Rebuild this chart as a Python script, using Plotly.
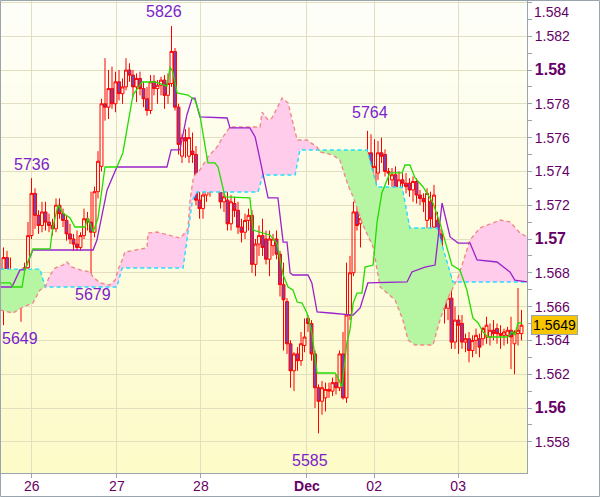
import numpy as np
import plotly.graph_objects as go

# ---------------- data (hourly bars) ----------------
bar_open = [1.5669,1.5689,1.5680,1.5676,1.5670,1.5663,1.5665,1.5683,1.5702,1.5727,
            1.5714,1.5708,1.5716,1.5710,1.5708,1.5706,1.5720,1.5715,1.5711,1.5703,
            1.5700,1.5697,1.5695,1.5702,1.5712,1.5710,1.5704,1.5728,1.5743,1.5780,
            1.5778,1.5789,1.5780,1.5793,1.5786,1.5790,1.5800,1.5797,1.5790,1.5795,
            1.5789,1.5783,1.5776,1.5793,1.5789,1.5791,1.5794,1.5785,1.5792,1.5811,
            1.5778,1.5749,1.5760,1.5749,1.5752,1.5750,1.5723,1.5718,1.5726,1.5733,
            1.5735,1.5742,1.5736,1.5722,1.5723,1.5709,1.5721,1.5717,1.5707,1.5704,
            1.5711,1.5714,1.5685,1.5697,1.5702,1.5700,1.5688,1.5696,1.5700,1.5691,
            1.5673,1.5663,1.5638,1.5622,1.5632,1.5628,1.5637,1.5653,1.5650,1.5632,
            1.5612,1.5604,1.5606,1.5611,1.5610,1.5615,1.5612,1.5632,1.5606,1.5655,
            1.5680,1.5716,1.5709,1.5712,1.5735,1.5751,1.5722,1.5739,1.5751,1.5750,
            1.5740,1.5735,1.5738,1.5729,1.5735,1.5733,1.5733,1.5729,1.5734,1.5726,
            1.5724,1.5711,1.5722,1.5707,1.5711,1.5703,1.5680,1.5659,1.5665,1.5639,
            1.5652,1.5650,1.5639,1.5641,1.5634,1.5640,1.5641,1.5641,1.5642,1.5642,
            1.5646,1.5647,1.5644,1.5643,1.5643,1.5646,1.5638,1.5644,1.5644]
bar_high = [1.5695,1.5693,1.5689,1.5680,1.5673,1.5673,1.5686,1.5710,1.5736,1.5730,
            1.5717,1.5722,1.5722,1.5715,1.5712,1.5724,1.5724,1.5718,1.5714,1.5709,
            1.5703,1.5705,1.5704,1.5718,1.5716,1.5728,1.5731,1.5752,1.5783,1.5807,
            1.5800,1.5802,1.5799,1.5800,1.5795,1.5807,1.5804,1.5800,1.5798,1.5799,
            1.5793,1.5790,1.5797,1.5797,1.5794,1.5796,1.5797,1.5798,1.5826,1.5813,
            1.5780,1.5762,1.5765,1.5766,1.5763,1.5755,1.5730,1.5732,1.5742,1.5740,
            1.5750,1.5748,1.5740,1.5728,1.5730,1.5726,1.5725,1.5722,1.5712,1.5715,
            1.5718,1.5717,1.5700,1.5708,1.5712,1.5705,1.5705,1.5703,1.5705,1.5693,
            1.5686,1.5665,1.5640,1.5633,1.5636,1.5645,1.5653,1.5655,1.5652,1.5634,
            1.5614,1.5616,1.5615,1.5615,1.5618,1.5620,1.5634,1.5645,1.5686,1.5690,
            1.5722,1.5725,1.5723,1.5740,1.5764,1.5762,1.5759,1.5758,1.5760,1.5753,
            1.5742,1.5742,1.5743,1.5740,1.5739,1.5739,1.5736,1.5737,1.5736,1.5729,
            1.5727,1.5730,1.5728,1.5732,1.5716,1.5706,1.5690,1.5675,1.5678,1.5660,
            1.5655,1.5655,1.5644,1.5645,1.5643,1.5647,1.5644,1.5648,1.5654,1.5650,
            1.5652,1.5650,1.5649,1.5647,1.5648,1.5654,1.5646,1.5671,1.5658]
bar_low = [1.5649,1.5675,1.5667,1.5662,1.5658,1.5651,1.5662,1.5681,1.5700,1.5706,
           1.5703,1.5704,1.5705,1.5704,1.5702,1.5704,1.5712,1.5707,1.5699,1.5697,
           1.5693,1.5693,1.5693,1.5700,1.5705,1.5679,1.5701,1.5724,1.5740,1.5770,
           1.5771,1.5777,1.5775,1.5782,1.5780,1.5788,1.5793,1.5784,1.5781,1.5785,
           1.5778,1.5773,1.5774,1.5785,1.5780,1.5785,1.5777,1.5780,1.5790,1.5776,
           1.5750,1.5745,1.5748,1.5745,1.5745,1.5720,1.5712,1.5712,1.5722,1.5725,
           1.5730,1.5732,1.5718,1.5716,1.5705,1.5705,1.5713,1.5703,1.5698,1.5700,
           1.5705,1.5680,1.5678,1.5690,1.5690,1.5685,1.5678,1.5690,1.5688,1.5666,
           1.5634,1.5632,1.5612,1.5610,1.5622,1.5625,1.5633,1.5645,1.5628,1.5600,
           1.5585,1.5596,1.5598,1.5606,1.5607,1.5608,1.5610,1.5605,1.5603,1.5652,
           1.5678,1.5705,1.5695,1.5710,1.5732,1.5716,1.5718,1.5735,1.5745,1.5737,
           1.5732,1.5728,1.5726,1.5726,1.5730,1.5727,1.5725,1.5722,1.5721,1.5720,
           1.5716,1.5705,1.5698,1.5703,1.5700,1.5676,1.5650,1.5652,1.5635,1.5635,
           1.5632,1.5635,1.5633,1.5627,1.5630,1.5632,1.5630,1.5637,1.5638,1.5637,
           1.5640,1.5638,1.5635,1.5637,1.5638,1.5623,1.5620,1.5637,1.5640]
bar_close = [1.5689,1.5680,1.5676,1.5670,1.5663,1.5665,1.5683,1.5702,1.5727,1.5714,
             1.5708,1.5716,1.5710,1.5708,1.5706,1.5720,1.5715,1.5711,1.5703,1.5700,
             1.5697,1.5695,1.5702,1.5712,1.5710,1.5704,1.5728,1.5746,1.5780,1.5778,
             1.5789,1.5780,1.5793,1.5786,1.5790,1.5800,1.5797,1.5790,1.5795,1.5789,
             1.5783,1.5776,1.5793,1.5789,1.5791,1.5794,1.5785,1.5792,1.5811,1.5778,
             1.5756,1.5760,1.5758,1.5760,1.5750,1.5723,1.5718,1.5726,1.5733,1.5737,
             1.5744,1.5736,1.5722,1.5725,1.5709,1.5722,1.5717,1.5707,1.5704,1.5711,
             1.5714,1.5685,1.5697,1.5702,1.5695,1.5688,1.5700,1.5700,1.5691,1.5673,
             1.5664,1.5638,1.5622,1.5632,1.5628,1.5638,1.5642,1.5650,1.5632,1.5612,
             1.5604,1.5612,1.5611,1.5610,1.5615,1.5612,1.5632,1.5606,1.5655,1.5680,
             1.5716,1.5708,1.5712,1.5735,1.5751,1.5722,1.5743,1.5751,1.5749,1.5740,
             1.5739,1.5738,1.5730,1.5735,1.5733,1.5731,1.5729,1.5734,1.5726,1.5724,
             1.5722,1.5727,1.5712,1.5726,1.5703,1.5680,1.5659,1.5665,1.5639,1.5652,
             1.5649,1.5639,1.5641,1.5634,1.5640,1.5643,1.5636,1.5647,1.5649,1.5646,
             1.5644,1.5644,1.5643,1.5645,1.5646,1.5642,1.5645,1.5646,1.5649]
bar_index = list(range(len(bar_close)))

# Ichimoku lines (vertices: bar position, price)
tenkan_x = [-1,1.9,2.7,5.3,6.1,7.6,8.4,13.3,14.1,15.6,17.0,19.0,20.4,23.3,24.1,25.6,27.0,29.0,32.4,34.1,
            37.0,39.6,43.3,46.7,47.6,48.4,49.6,52.7,54.7,56.1,57.6,58.4,60.4,61.3,63.3,70.4,71.3,76.1,78.1,79.9,
            81.3,82.7,83.9,85.3,86.7,88.1,89.6,94.7,95.6,96.7,98.1,99.0,99.9,101.0,102.4,103.3,105.6,106.7,108.1,110.4,
            113.9,114.7,116.1,117.6,119.9,122.7,124.7,126.7,128.1,130.4,132.4,134.1,135.6,137.0,138.4,144.1,145.3,146.1,147.0,148.1]
tenkan_y = [1.56740,1.56740,1.56716,1.56716,1.56817,1.56905,1.56941,1.56941,1.57071,1.57201,
            1.57154,1.57124,1.57071,1.57071,1.57124,1.57041,1.57124,1.57426,1.57426,1.57509,
            1.57852,1.57929,1.57929,1.57905,1.58018,1.57988,1.57864,1.57852,1.57822,1.57734,
            1.57556,1.57450,1.57450,1.57426,1.57249,1.57243,1.57053,1.57024,1.56976,1.56787,
            1.56716,1.56698,1.56627,1.56621,1.56562,1.56444,1.56207,1.56207,1.56178,1.56124,
            1.56385,1.56462,1.56621,1.56680,1.56680,1.56834,1.56846,1.57095,1.57272,1.57391,
            1.57391,1.57438,1.57438,1.57361,1.57308,1.57213,1.57095,1.56953,1.56846,1.56817,
            1.56698,1.56533,1.56503,1.56450,1.56420,1.56420,1.56450,1.56432,1.56503,1.56503]
kijun_x = [-1,2.4,4.7,6.1,8.4,25.6,26.7,29.6,32.4,46.7,47.9,50.4,52.4,53.9,54.7,56.1,63.9,64.7,70.4,71.9,
           72.7,74.1,75.6,78.4,79.0,79.9,81.0,81.9,82.7,87.0,88.1,89.6,93.3,99.9,101.9,103.0,104.1,115.3,116.7,120.4,
           123.3,125.3,126.1,127.6,129.9,133.3,135.3,141.0,144.7,146.1,149.6]
kijun_y = [1.56716,1.56716,1.56817,1.56817,1.56935,1.56935,1.56994,1.57290,1.57426,1.57426,
           1.57527,1.57527,1.57734,1.57834,1.57834,1.57722,1.57716,1.57657,1.57657,1.57604,
           1.57527,1.57391,1.57243,1.57243,1.57130,1.56982,1.56982,1.56799,1.56787,1.56787,
           1.56740,1.56568,1.56562,1.56550,1.56592,1.56669,1.56740,1.56746,1.56805,1.56834,
           1.56846,1.57213,1.57142,1.57012,1.56976,1.56976,1.56876,1.56864,1.56805,1.56757,1.56746]
spanA_x = [-1,10.4,11.9,32.4,33.9,51.3,54.0,55.3,72.7,74.1,83.3,84.7,103.9,106.7,113.9,116.1,123.9,128.4,149.6]
spanA_y = [1.56822,1.56822,1.56716,1.56716,1.56828,1.56828,1.57231,1.57278,1.57278,1.57379,
           1.57379,1.57527,1.57527,1.57308,1.57308,1.57065,1.57065,1.56746,1.56746]
spanB_x = [-1,2.7,5.6,8.4,10.4,11.9,13.3,14.7,17.0,18.1,19.6,21.9,24.7,25.6,27.6,30.4,31.9,32.7,33.9,34.7,
           41.0,41.3,43.9,50.4,51.3,52.7,53.3,54.3,56.1,58.4,61.0,62.7,64.7,73.3,73.9,75.6,76.7,79.6,81.3,83.9,
           86.7,89.6,90.4,94.1,96.1,98.4,99.9,102.7,105.6,107.6,111.9,114.1,115.6,117.6,122.7,124.7,126.7,129.9,133.3,136.1,
           141.9,144.7,147.6,149.6]
spanB_y = [1.56580,1.56562,1.56598,1.56621,1.56698,1.56716,1.56787,1.56828,1.56846,1.56864,
           1.56834,1.56817,1.56805,1.56775,1.56740,1.56728,1.56757,1.56817,1.56876,1.56923,
           1.56947,1.57035,1.57041,1.57006,1.57024,1.57060,1.57231,1.57370,1.57408,1.57485,
           1.57544,1.57604,1.57663,1.57663,1.57751,1.57704,1.57716,1.57834,1.57805,1.57586,
           1.57586,1.57544,1.57515,1.57497,1.57467,1.57320,1.57249,1.57083,1.56953,1.56716,
           1.56639,1.56521,1.56402,1.56373,1.56373,1.56521,1.56639,1.56775,1.56994,1.57065,
           1.57112,1.57101,1.57035,1.57012]

# axis ticks / labels
day_tick_pos = [8.1, 32.4, 56.4, 86.7, 105.9, 129.9]
day_tick_text = ["26", "27", "28", "<b>Dec</b>", "02", "03"]
price_ticks = [1.558, 1.560, 1.562, 1.564, 1.566, 1.568, 1.570, 1.572, 1.574, 1.576, 1.578, 1.580, 1.582, 1.584]
major_prices = [1.560, 1.570, 1.580]
extreme_bars = [0, 8, 25, 48, 90, 104]
extreme_kind = ["low", "high", "low", "high", "low", "high"]
last_price = bar_close[-1]

# ---------------- styling ----------------
PURPLE_TXT = "#660066"
LABEL_TXT = "#7b22cc"
GRID = "#e2dec0"
AXIS = "#9aa4ac"
FONT = "Liberation Sans, Arial, sans-serif"

fig = go.Figure()

# cloud fill between span A and span B
xs = np.union1d(spanA_x, spanB_x)
a = np.interp(xs, spanA_x, spanA_y)
b = np.interp(xs, spanB_x, spanB_y)
X, A, B = [xs[0]], [a[0]], [b[0]]
for k in range(1, len(xs)):
    d0 = A[-1] - B[-1]
    d1 = a[k] - b[k]
    if d0 * d1 < 0:
        t = d0 / (d0 - d1)
        xc = X[-1] + t * (xs[k] - X[-1])
        yc = A[-1] + t * (a[k] - A[-1])
        X.append(xc); A.append(yc); B.append(yc)
    X.append(xs[k]); A.append(a[k]); B.append(b[k])
X, A, B = np.array(X), np.array(A), np.array(B)
sgn = np.sign((A[:-1] + A[1:]) - (B[:-1] + B[1:]))
start = 0
segs = []
for k in range(1, len(sgn) + 1):
    if k == len(sgn) or sgn[k] != sgn[start]:
        segs.append((start, k, sgn[start]))
        start = k
for s, e, sg in segs:
    px = list(X[s:e + 1]) + list(X[s:e + 1][::-1])
    py = list(A[s:e + 1]) + list(B[s:e + 1][::-1])
    col = "#b6f5a2" if sg > 0 else "#ffccec"
    fig.add_trace(go.Scatter(x=px, y=py, fill="toself", fillcolor=col, mode="lines",
                             line=dict(width=0), hoverinfo="skip", showlegend=False))

fig.add_trace(go.Scatter(x=spanA_x, y=spanA_y, mode="lines",
                         line=dict(color="#22ddff", width=1.4, dash="4px,3px"),
                         hoverinfo="skip", showlegend=False))
fig.add_trace(go.Scatter(x=spanB_x, y=spanB_y, mode="lines",
                         line=dict(color="#f08a8a", width=1.4, dash="4px,3px"),
                         hoverinfo="skip", showlegend=False))
fig.add_trace(go.Scatter(x=kijun_x, y=kijun_y, mode="lines",
                         line=dict(color="#9922cc", width=1.3),
                         hoverinfo="skip", showlegend=False))
fig.add_trace(go.Scatter(x=tenkan_x, y=tenkan_y, mode="lines",
                         line=dict(color="#22dd00", width=1.3),
                         hoverinfo="skip", showlegend=False))

fig.add_trace(go.Candlestick(
    x=bar_index, open=bar_open, high=bar_high, low=bar_low, close=bar_close,
    increasing=dict(line=dict(color="#ff0000", width=1), fillcolor="rgba(0,0,0,0)"),
    decreasing=dict(line=dict(color="#ff0000", width=1), fillcolor="#8040b0"),
    whiskerwidth=0, hoverinfo="skip", showlegend=False))

# high / low labels
shifts = {0: (-4, -3), 8: (0, 3), 25: (2, -10), 48: (-8, 4), 90: (-9, -17), 104: (2, 8)}
for idx, kind in zip(extreme_bars, extreme_kind):
    val = bar_high[idx] if kind == "high" else bar_low[idx]
    xs_, ys_ = shifts[idx]
    fig.add_annotation(x=idx, y=val, xref="x", yref="y", text=f"{val:.4f}"[2:],
                       showarrow=False, xanchor="left" if idx == 0 else "center",
                       yanchor="bottom" if kind == "high" else "top",
                       xshift=xs_, yshift=ys_,
                       font=dict(family=FONT, size=16, color=LABEL_TXT))

# current price box
fig.add_annotation(x=1, y=last_price, xref="paper", yref="y", text=f"{last_price:.4f}",
                   showarrow=False, xanchor="left", yanchor="middle", xshift=4,
                   bgcolor="#f7c600", bordercolor="#9aa4ac", borderwidth=1, borderpad=1,
                   font=dict(family=FONT, size=14, color="#000000"))

# top tick label (kept inside the page as in the original)
top_tick = price_ticks[-1]
fig.add_annotation(x=1, y=top_tick, xref="paper", yref="y", text=f"{top_tick:.3f}",
                   showarrow=False, xanchor="left", yanchor="top", xshift=5, yshift=0,
                   font=dict(family=FONT, size=14, color=PURPLE_TXT))

# background gradient (white at top to pale yellow at bottom)
nb = 40
top_c = np.array([255, 255, 250])
bot_c = np.array([253, 251, 200])
shapes = []
for k in range(nb):
    t = (k + 0.5) / nb
    c = top_c + (bot_c - top_c) * t
    shapes.append(dict(type="rect", xref="x domain", yref="y domain",
                       x0=0, x1=1, y0=1 - (k + 1) / nb, y1=1 - k / nb + 0.001,
                       fillcolor=f"rgb({int(c[0])},{int(c[1])},{int(c[2])})",
                       line=dict(width=0), layer="below"))
# outer frame
W, H = 600, 497
L, R, T, Bm = 1, 73, 1, 24
pw, ph = W - L - R, H - T - Bm
shapes.append(dict(type="rect", xref="paper", yref="paper",
                   x0=-(L - 0.5) / pw, x1=1 + (R - 0.5) / pw,
                   y0=-(Bm - 0.5) / ph, y1=1 + (T - 0.5) / ph,
                   line=dict(color=AXIS, width=1), fillcolor="rgba(0,0,0,0)", layer="above"))
fig.update_layout(shapes=shapes)

tick_text = []
for p in price_ticks:
    if any(abs(p - m) < 1e-9 for m in major_prices):
        tick_text.append(f'<b><span style="font-size:16px">{p:.2f}</span></b>')
    elif abs(p - top_tick) < 1e-9:
        tick_text.append("")
    else:
        tick_text.append(f"{p:.3f}")
minor_vals = [round(p + 0.001, 3) for p in price_ticks]

fig.update_layout(
    width=W, height=H, margin=dict(l=L, r=R, t=T, b=Bm, pad=0),
    paper_bgcolor="#ffffff", plot_bgcolor="#fffff0",
    hovermode=False, showlegend=False, boxgap=0.12, boxgroupgap=0.05,
    xaxis=dict(range=[-0.714, 149.571], rangeslider=dict(visible=False),
               tickmode="array", tickvals=day_tick_pos, ticktext=day_tick_text,
               ticks="outside", ticklen=4, tickcolor=AXIS, showline=True, linecolor=AXIS,
               linewidth=1, showgrid=True, gridcolor=GRID, gridwidth=1, zeroline=False,
               ticklabelstandoff=-4,
               tickfont=dict(family=FONT, size=14, color=PURPLE_TXT)),
    yaxis=dict(range=[1.556154, 1.584083], side="right", tickmode="array",
               tickvals=price_ticks, ticktext=tick_text, ticks="outside", ticklen=4,
               tickcolor=AXIS, showline=True, linecolor=AXIS, linewidth=1,
               showgrid=True, gridcolor=GRID, gridwidth=1, zeroline=False,
               minor=dict(tickmode="array", tickvals=minor_vals, ticks="outside",
                          ticklen=4, tickcolor=AXIS, showgrid=False),
               tickfont=dict(family=FONT, size=14, color=PURPLE_TXT)),
)

fig.write_html("out.html", config={"displayModeBar": False},
               post_script="document.body.style.margin='0';document.body.style.overflow='hidden';")
